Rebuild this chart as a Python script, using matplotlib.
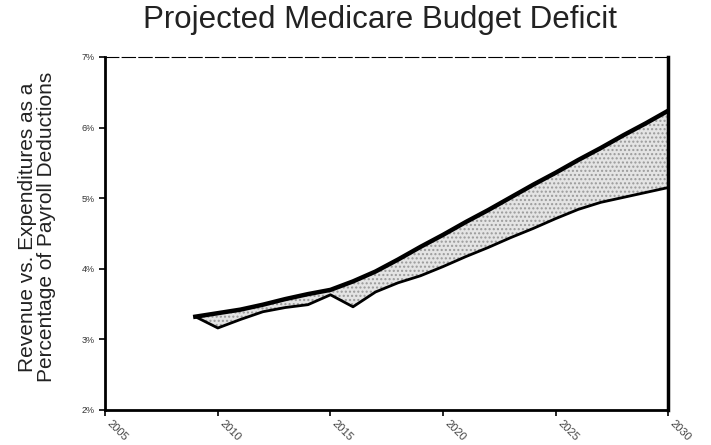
import matplotlib.pyplot as plt

plt.rcParams['font.family'] = ['Liberation Sans', 'DejaVu Sans']

# Years and values (percent of payroll deductions)
years = list(range(2009, 2031))
expenditures = [3.32, 3.37, 3.42, 3.49, 3.57, 3.64, 3.70, 3.82, 3.96, 4.13,
                4.31, 4.48, 4.66, 4.83, 5.01, 5.19, 5.36, 5.54, 5.71, 5.89,
                6.06, 6.24]
revenue = [3.32, 3.16, 3.28, 3.39, 3.45, 3.49, 3.63, 3.46, 3.67, 3.80,
           3.90, 4.03, 4.17, 4.30, 4.44, 4.57, 4.71, 4.84, 4.94, 5.01,
           5.08, 5.15]

x_ticks = [2005, 2010, 2015, 2020, 2025, 2030]
y_ticks = [2, 3, 4, 5, 6, 7]
y_tick_labels = ['2%', '3%', '4%', '5%', '6%', '7%']

fig = plt.figure(figsize=(7.11, 4.45), dpi=100)
ax = fig.add_axes([0.148, 0.079, 0.792, 0.793])

# Shaded deficit between the two lines
ax.fill_between(years, revenue, expenditures, facecolor='#e4e4e4',
                edgecolor='#9a9a9a', hatch='....', linewidth=0)
ax.plot(years, revenue, color='black', linewidth=2.0)
ax.plot(years, expenditures, color='black', linewidth=3.2,
        solid_joinstyle='miter')

ax.set_xlim(2005, 2030)
ax.set_ylim(2, 7)
ax.set_xticks(x_ticks)
ax.set_xticklabels([str(y) for y in x_ticks], rotation=-45, ha='left',
                   va='top', fontsize=8, color='#444444')
ax.set_yticks(y_ticks)
ax.set_yticklabels(y_tick_labels, fontsize=6.5, color='#333333')
ax.tick_params(axis='both', direction='out', length=4, width=1.2)
ax.tick_params(axis='x', pad=2)

# Frame: heavy left/bottom/right, thin top
ax.spines['left'].set_linewidth(2.0)
ax.spines['bottom'].set_linewidth(2.0)
ax.spines['right'].set_linewidth(2.5)
ax.spines['top'].set_linewidth(0.8)
ax.spines['top'].set_linestyle((0, (12, 3)))

fig.text(0.535, 0.955, 'Projected Medicare Budget Deficit', fontsize=22.5,
         ha='center', va='center', color='#222222')
fig.text(0.052, 0.49,
         'Revenue vs. Expenditures as a\nPercentage of Payroll Deductions',
         fontsize=15, rotation=90, ha='center', va='center',
         color='#222222', linespacing=1.05)

fig.savefig('out.png', dpi=100)
